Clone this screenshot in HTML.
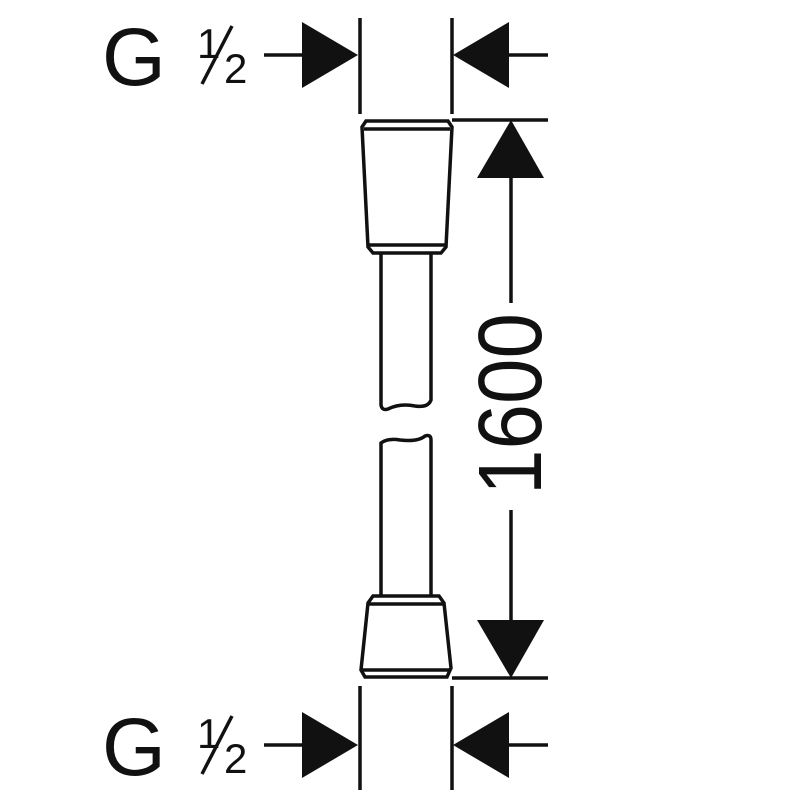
<!DOCTYPE html>
<html><head><style>html,body{margin:0;padding:0;background:#fff;}svg{display:block}</style></head>
<body>
<svg width="800" height="800" viewBox="0 0 800 800" xmlns="http://www.w3.org/2000/svg">
<defs>
<g id="top">
  <text x="102" y="85" font-family="Liberation Sans, sans-serif" font-size="82" fill="#111">G</text>
  <text x="197" y="58" font-family="Liberation Sans, sans-serif" font-size="42" fill="#111">1</text>
  <line x1="202" y1="84" x2="232" y2="26" stroke="#111" stroke-width="3.5"/>
  <text x="224" y="83" font-family="Liberation Sans, sans-serif" font-size="42" fill="#111">2</text>
  <line x1="264" y1="55" x2="302" y2="55" stroke="#111" stroke-width="3.5"/>
  <polygon points="302,22 302,88 358,55" fill="#111"/>
  <polygon points="509,22 509,88 453,55" fill="#111"/>
  <line x1="509" y1="55" x2="548" y2="55" stroke="#111" stroke-width="3.5"/>
</g>
</defs>
<use href="#top"/>
<use href="#top" transform="translate(0,690)"/>
<g stroke="#111" stroke-width="3.5" fill="none">
  <line x1="360" y1="18" x2="360" y2="114"/>
  <line x1="452" y1="18" x2="452" y2="114"/>
  <line x1="360" y1="686" x2="360" y2="790"/>
  <line x1="452" y1="686" x2="452" y2="790"/>
  <line x1="452" y1="120" x2="548" y2="120"/>
  <line x1="452" y1="678" x2="548" y2="678"/>
  <line x1="511" y1="175" x2="511" y2="303"/>
  <line x1="511" y1="510" x2="511" y2="625"/>
  <!-- top fitting -->
  <path d="M366,121 L448,121 L452,127 L446,247 L441,253 L373,253 L368,247 L362,127 Z"/>
  <line x1="364" y1="129" x2="450" y2="129"/>
  <line x1="368" y1="245" x2="446" y2="245"/>
  <!-- upper tube -->
  <path d="M381,253 L381,405 Q382,411 388,409 Q400,403 415,406 Q428,408 431,400 L431,253"/>
  <!-- lower tube -->
  <path d="M381,596 L381,443 Q388,438 400,440 Q418,442 425,436 Q431,434 431,440 L431,596"/>
  <!-- bottom fitting -->
  <path d="M373,596 L439,596 L444,603 L451,668 L447,677 L365,677 L361,670 L368,603 Z"/>
  <line x1="368" y1="604" x2="444" y2="604"/>
  <line x1="362" y1="670" x2="450" y2="670"/>
</g>
<polygon points="511,120 477,178 544,178" fill="#111"/>
<polygon points="511,678 477,620 544,620" fill="#111"/>
<text transform="translate(541,495) rotate(-90)" font-family="Liberation Sans, sans-serif" font-size="90" textLength="182" lengthAdjust="spacingAndGlyphs" fill="#111">1600</text>
</svg>
</body></html>
